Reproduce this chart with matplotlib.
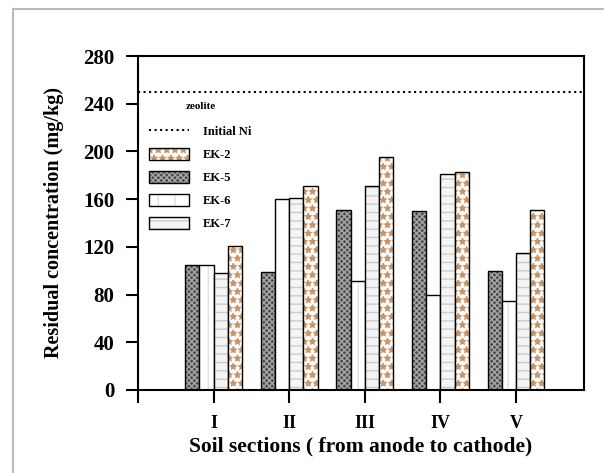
import numpy as np
import matplotlib
matplotlib.use("Agg")
from matplotlib import pyplot as plt
from matplotlib.lines import Line2D

plt.rcParams['font.family'] = 'Liberation Serif'
plt.rcParams['font.weight'] = 'bold'
plt.rcParams['hatch.linewidth'] = 1.0

sections = ['I', 'II', 'III', 'IV', 'V']
ek5 = [105, 99, 151, 150, 100]
ek6 = [105, 160, 91, 80, 75]
ek7 = [98, 161, 171, 181, 115]
ek2 = [121, 171, 195, 183, 151]
initial_ni = 250

fig = plt.figure(figsize=(6.04, 4.73), dpi=100)
ax = fig.add_axes([0.2285, 0.1755, 0.7385, 0.7061])

x = np.arange(1, len(sections) + 1)
w = 0.188

b5 = ax.bar(x - 1.5 * w, ek5, w, facecolor='#4a4a4a', edgecolor='black', hatch='xxxxxx', linewidth=1.0)
for p in b5:
    p._hatch_color = (0.65, 0.65, 0.65, 1)
b6 = ax.bar(x - 0.5 * w, ek6, w, facecolor='white', edgecolor='black', linewidth=1.0)
for p in b6:
    p.set_hatch('|')
    p._hatch_color = (0.88, 0.88, 0.88, 1)
b7 = ax.bar(x + 0.5 * w, ek7, w, facecolor='#f4f4f4', edgecolor='black', linewidth=1.0)
for p in b7:
    p.set_hatch('--')
    p._hatch_color = (0.8, 0.8, 0.8, 1)
b2 = ax.bar(x + 1.5 * w, ek2, w, facecolor='white', edgecolor='black', linewidth=1.0)
for p in b2:
    p.set_hatch('**')
    p._hatch_color = (0.78, 0.58, 0.40, 1)

ax.axhline(initial_ni, color='black', linestyle=':', linewidth=1.5)

ax.set_xlim(0, 5.9)
ax.set_ylim(0, 280)
ax.set_xticks([0, 1, 2, 3, 4, 5])
ax.set_xticklabels([''] + sections, fontsize=13, fontweight='bold')
ax.set_yticks(np.arange(0, 281, 40))
ax.tick_params(axis='both', direction='out', width=1.5, length=9)
ax.tick_params(axis='y', labelsize=15, pad=8)
for lab in ax.get_yticklabels():
    lab.set_fontweight('bold')
ax.tick_params(axis='x', pad=9)
for s in ax.spines.values():
    s.set_linewidth(1.5)

ax.set_xlabel('Soil sections ( from anode to cathode)', fontsize=15.5, fontweight='bold', labelpad=3)
ax.set_ylabel('Residual concentration (mg/kg)', fontsize=14.5, fontweight='bold', labelpad=14)

handles = [Line2D([0], [0], color='black', linestyle=':', linewidth=1.5), b2[0], b5[0], b6[0], b7[0]]
labels = ['Initial Ni', 'EK-2', 'EK-5', 'EK-6', 'EK-7']
leg = ax.legend(handles, labels, title='zeolite', loc='upper left', bbox_to_anchor=(0.0, 0.895),
                frameon=False, prop={'size': 9, 'weight': 'bold'}, title_fontsize=8,
                handlelength=3.2, handleheight=1.1, labelspacing=0.78, handletextpad=1.1)
leg.get_title().set_fontweight('bold')
leg._legend_box.sep = 10

fig.add_artist(Line2D([13 / 604, 1], [1 - 9 / 473, 1 - 9 / 473], color='#bbbbbb', linewidth=1.5))
fig.add_artist(Line2D([13 / 604, 13 / 604], [0, 1 - 9 / 473], color='#bbbbbb', linewidth=1.5))

fig.savefig('out.png', dpi=100)
